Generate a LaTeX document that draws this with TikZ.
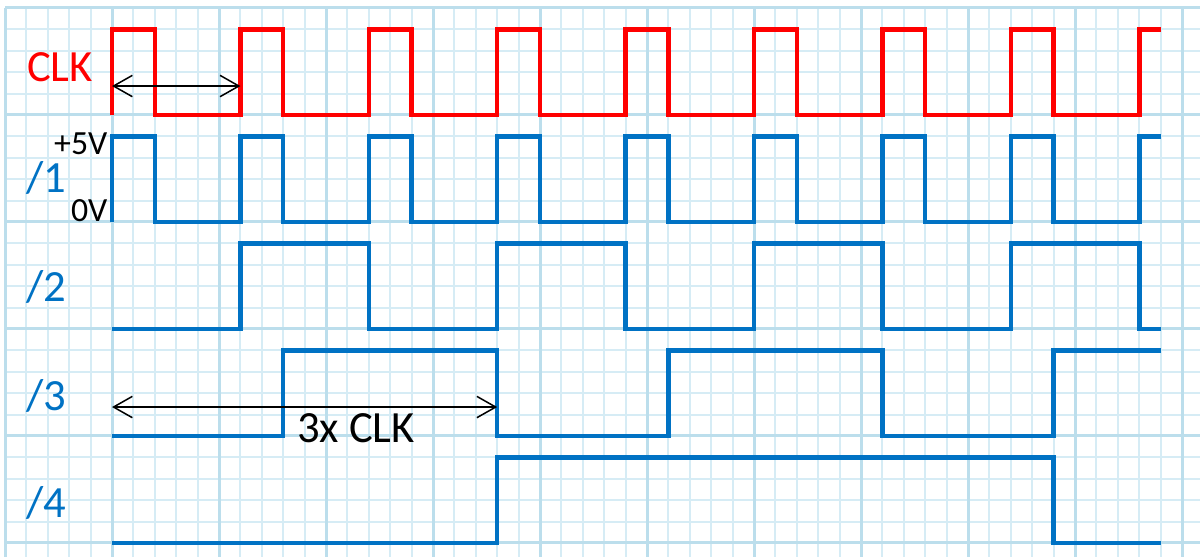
\documentclass[tikz,border=0pt]{standalone}
\usepackage{fontspec}
\setmainfont{Carlito}
\usetikzlibrary{arrows.meta}
\definecolor{clkred}{RGB}{255,0,0}
\definecolor{sigblue}{RGB}{0,114,196}
\definecolor{gridminor}{RGB}{214,236,245}
\definecolor{gridmajor}{RGB}{188,222,236}
\tikzset{
	minorgrid/.style={gridminor, line width=.8pt, step=1},
	majorgrid/.style={gridmajor, line width=1.2pt, step=5},
	clkwave/.style={clkred, line width=1.8pt},
	sigwave/.style={sigblue, line width=1.8pt},
	siglabel/.style={sigblue, font=\fontsize{17.8}{20}\selectfont, anchor=base},
	voltlabel/.style={black, font=\fontsize{13.5}{15}\selectfont, anchor=base east, inner sep=0pt},
	span/.style={black, line width=.6pt, {Straight Barb[length=7.5pt,width=8.5pt,line width=.6pt]}-{Straight Barb[length=7.5pt,width=8.5pt,line width=.6pt]}}
}
\begin{document}
\begin{tikzpicture}[x=.3cm,y=.3cm]
		\fill[white] (-5.234,-0.654) rectangle (50.84,25.37);
		\useasboundingbox (-5.234,-0.654) rectangle (50.84,25.37);

		% paper grid
		\draw[minorgrid] (-5,-0.654) grid (50.84,25);
		\draw[majorgrid] (-5,-0.654) grid (50.84,25);

		% clock
		\draw[clkwave] (0,20) \foreach \t in {0,6,...,42} { -- (\t,24) -- (\t+2,24) -- (\t+2,20) -- (\t+6,20) } -- (48,24) -- (49,24);

		% divided signals
		\draw[sigwave] (0,15) \foreach \t in {0,6,...,42} { -- (\t,19) -- (\t+2,19) -- (\t+2,15) -- (\t+6,15) } -- (48,19) -- (49,19);
		\draw[sigwave] (0,10) \foreach \t in {6,18,30,42} { -- (\t,10) -- (\t,14) -- (\t+6,14) -- (\t+6,10) } -- (49,10);
		\draw[sigwave] (0,5) -- (8,5) -- (8,9) -- (18,9) -- (18,5) -- (26,5) -- (26,9) -- (36,9) -- (36,5) -- (44,5) -- (44,9) -- (49,9);
		\draw[sigwave] (0,0) -- (18,0) -- (18,4) -- (44,4) -- (44,0) -- (49,0);

		% labels
		\node[siglabel, clkred] (clk) at (-2.43,21.54) {CLK};
		\node[siglabel] (div1) at (-3.08,16.36) {/1};
		\node[siglabel] (div2) at (-3.08,11.26) {/2};
		\node[siglabel] (div3) at (-3.08,6.2) {/3};
		\node[siglabel] (div4) at (-3.08,1.2) {/4};
		\node[voltlabel] (high) at (-0.19,18.13) {+5V};
		\node[voltlabel] (low) at (-0.19,15.0) {0V};

		% periods
		\coordinate (clkstart) at (0,21.35);
		\coordinate (clkend) at (6,21.35);
		\draw[span] (clkstart) -- (clkend);
		\coordinate (threestart) at (0,6.35);
		\coordinate (threeend) at (18,6.35);
		\draw[span] (threestart) -- (threeend);
		\node[siglabel, black] (three) at (11.4,4.67) {3x CLK};
	\end{tikzpicture}
\end{document}
